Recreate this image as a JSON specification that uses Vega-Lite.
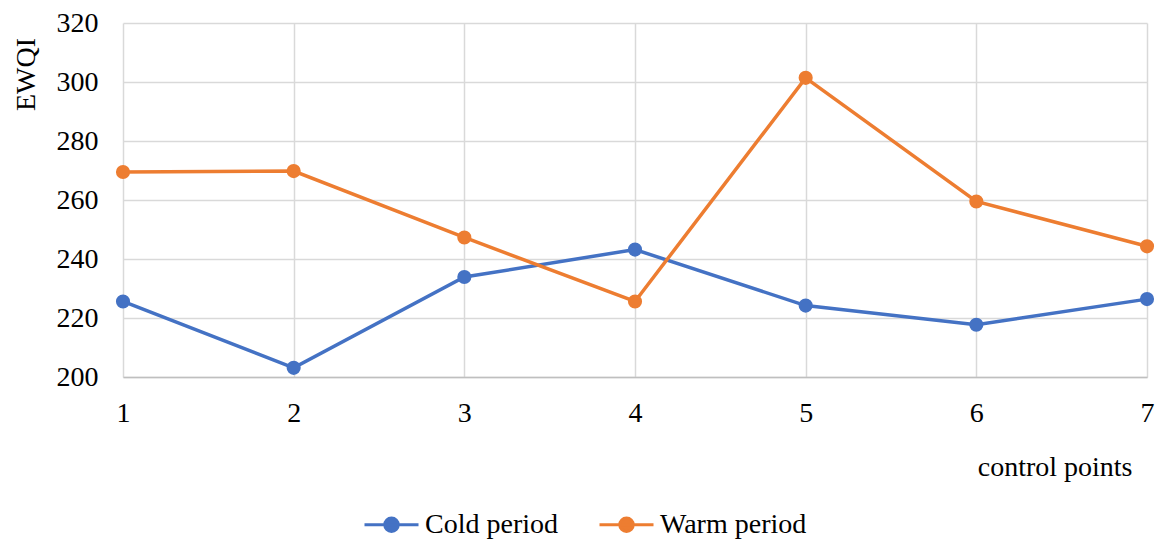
{
  "$schema": "https://vega.github.io/schema/vega-lite/v6.json",
  "autosize": {"type": "none"},
  "padding": {"left": 123, "top": 23, "right": 11, "bottom": 162},
  "width": 1024,
  "height": 354,
  "config": {
    "font": "Liberation Serif",
    "view": {"stroke": null},
    "axis": {
      "labelFont": "Liberation Serif",
      "titleFont": "Liberation Serif",
      "labelFontSize": 28,
      "titleFontSize": 28,
      "titleFontWeight": "normal",
      "labelColor": "#000000",
      "titleColor": "#000000",
      "gridColor": "#d9d9d9",
      "gridWidth": 1.5,
      "domainColor": "#bfbfbf",
      "domainWidth": 1.5,
      "ticks": false
    }
  },
  "data": {"values": [
    {"point": 1, "period": "Cold period", "EWQI": 225.6},
    {"point": 2, "period": "Cold period", "EWQI": 203.1},
    {"point": 3, "period": "Cold period", "EWQI": 233.9},
    {"point": 4, "period": "Cold period", "EWQI": 243.2},
    {"point": 5, "period": "Cold period", "EWQI": 224.2},
    {"point": 6, "period": "Cold period", "EWQI": 217.7},
    {"point": 7, "period": "Cold period", "EWQI": 226.4},
    {"point": 1, "period": "Warm period", "EWQI": 269.5},
    {"point": 2, "period": "Warm period", "EWQI": 269.8},
    {"point": 3, "period": "Warm period", "EWQI": 247.3},
    {"point": 4, "period": "Warm period", "EWQI": 225.6},
    {"point": 5, "period": "Warm period", "EWQI": 301.4},
    {"point": 6, "period": "Warm period", "EWQI": 259.5},
    {"point": 7, "period": "Warm period", "EWQI": 244.3}
  ]},
  "encoding": {
    "x": {
      "field": "point",
      "type": "quantitative",
      "scale": {"domain": [1, 7], "nice": false},
      "axis": {
        "values": [1, 2, 3, 4, 5, 6, 7],
        "format": "d",
        "labelFlush": false,
        "labelPadding": 22,
        "labelBaseline": "top",
        "title": "control points",
        "titleX": 1009,
        "titleY": 98,
        "titleAlign": "right",
        "titleBaseline": "alphabetic",
        "titleAnchor": null
      }
    },
    "y": {
      "field": "EWQI",
      "type": "quantitative",
      "scale": {"domain": [200, 320], "nice": false, "zero": false},
      "axis": {
        "values": [200, 220, 240, 260, 280, 300, 320],
        "labelPadding": 25,
        "domain": false,
        "title": "EWQI",
        "titleAngle": 270,
        "titleX": -89,
        "titleY": 51,
        "titleAlign": "center",
        "titleBaseline": "alphabetic"
      }
    },
    "color": {
      "field": "period",
      "type": "nominal",
      "scale": {"domain": ["Cold period", "Warm period"], "range": ["#4472c4", "#ed7d31"]},
      "legend": {
        "title": null,
        "orient": "none",
        "direction": "horizontal",
        "legendX": 240,
        "legendY": 473,
        "padding": 0,
        "labelFont": "Liberation Serif",
        "labelFontSize": 28,
        "labelColor": "#000000",
        "labelOffset": 5,
        "columnPadding": 35,
        "symbolType": "M-1,0H1M-0.25,0A0.25,0.25,0,1,0,0.25,0A0.25,0.25,0,1,0,-0.25,0Z",
        "symbolSize": 2916,
        "symbolStrokeWidth": 3,
        "encode": {
          "symbols": {
            "update": {
              "fill": {"scale": "color", "field": "value"},
              "stroke": {"scale": "color", "field": "value"},
              "strokeWidth": {"value": 3},
              "opacity": {"value": 1}
            }
          }
        }
      }
    }
  },
  "layer": [
    {"mark": {"type": "line", "strokeWidth": 3.5}},
    {"mark": {"type": "point", "filled": true, "opacity": 1, "size": 200}}
  ]
}
